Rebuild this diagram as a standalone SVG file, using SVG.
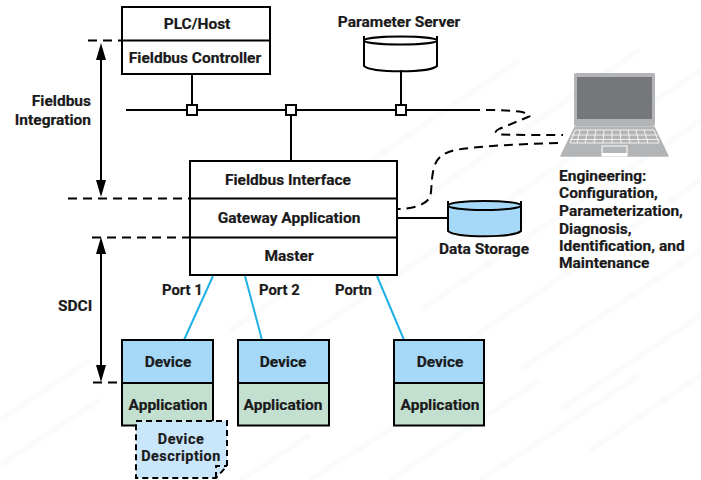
<svg xmlns="http://www.w3.org/2000/svg" width="701" height="480" viewBox="0 0 701 480">
<defs>
<style>
text{font-family:Roboto,"Liberation Sans",sans-serif;font-weight:700;font-size:15.500px;fill:#1a1a1a;stroke:#1a1a1a;stroke-width:.2px}
.m{text-anchor:middle}
.p{font-size:14.800px}
.q{font-size:14.400px;letter-spacing:.5px}
.b{fill:#fff;stroke:#000;stroke-width:2}
.l{fill:none;stroke:#000;stroke-width:2}
.d{fill:none;stroke:#000;stroke-width:2;stroke-dasharray:9 6}
.c{fill:none;stroke:#1fb0e6;stroke-width:2}
.s{fill:#fff;stroke:#000;stroke-width:2}
.blue{fill:#a5d9f7;stroke:#000;stroke-width:2}
.green{fill:#c3dfd0;stroke:#000;stroke-width:2}
.k{fill:none;stroke:#fff;stroke-width:.8}
</style>
</defs>
<rect width="701" height="480" fill="#fff"/>
<g stroke="#fafbfc" stroke-width="6" fill="none">
<path d="M180 290L520 60M230 330L640 50M300 340L701 70M420 310L701 120M470 340L701 180M520 370L701 250M560 410L701 315M590 450L701 375M0 420L90 360M0 465L100 400M240 480L310 435M310 480L420 410M390 480L540 380M480 480L640 375"/>
</g>
<g id="connectors">
<path class="l" d="M126 110H480"/>
<path class="l" d="M192 74V110M291 110V161M401 70V110"/>
<path class="d" stroke-dasharray="9 5" d="M486 110Q510 110 522 112Q534 115 528 117L499 129Q492 133 500 134.500Q510 135 563 135"/>
<path class="d" stroke-dasharray="9 5" d="M558 143C520 144 480 146 455 150C438 154 435 162 433 172C431 182 432 190 430 197C426 205 412 209 397 209"/>
<path class="l" d="M397 218H448"/>
<path class="c" d="M213 276L184 340M245 276L262 340M377 276L404 340"/>
<path class="d" d="M88 40.500H122M68 198.500H190M92 237.500H190"/>
<path class="d" d="M93 382.500H122"/>
<path class="l" d="M101 58V182" stroke-width="2.500"/>
<path d="M101 43L106 60H96ZM101 197L96 180H106Z" fill="#000"/>
<path class="l" d="M101 250V370" stroke-width="2.500"/>
<path d="M101 237L106 254H96ZM101 382L96 365H106Z" fill="#000"/>
<rect class="s" x="187" y="105" width="10" height="10"/>
<rect class="s" x="286" y="105" width="10" height="10"/>
<rect class="s" x="396" y="105" width="10" height="10"/>
</g>
<g id="plc">
<rect class="b" x="122" y="7" width="148" height="67"/>
<path class="l" d="M122 40.500H270"/>
<text class="m" x="197" y="29">PLC/Host</text>
<text class="m" x="195" y="63">Fieldbus Controller</text>
</g>
<g id="parameter-server">
<text class="m" x="399" y="27">Parameter Server</text>
<path fill="#fff" d="M364 38V65C372 72 430 72 437 65V38Z"/>
<path class="l" d="M364 36V66C372 73 430 73 437 66V36"/>
<ellipse class="b" cx="400.500" cy="40.500" rx="36.500" ry="4"/>
</g>
<g id="gateway">
<rect class="b" x="190" y="161" width="207" height="114"/>
<path class="l" d="M190 198.500H397M190 237.500H397"/>
<text class="m" x="288" y="185">Fieldbus Interface</text>
<text class="m" x="289" y="223">Gateway Application</text>
<text class="m" x="289" y="261">Master</text>
</g>
<g id="data-storage">
<path fill="#a5d9f7" d="M448 203V230C456 237 514 237 521 230V203Z"/>
<path class="l" d="M448 201V231C456 238 514 238 521 231V201"/>
<ellipse class="blue" cx="484.500" cy="205.500" rx="36.500" ry="4.500"/>
<text class="m" x="484" y="254">Data Storage</text>
</g>
<g id="laptop">
<rect x="574" y="73" width="81" height="53" rx="2" fill="#b3b4b6"/>
<rect x="577" y="77" width="75" height="42" fill="#76777a"/>
<path d="M575 127H654L668 156H561Z" fill="#b3b4b6" stroke="#b3b4b6" stroke-width="1.500" stroke-linejoin="round"/>
<path d="M575 130H654L659 143H570ZM571.500 135H657.500M570 139.500H659M580 130L577 143M588 130L585 143M596 130L594 143M604 130L603 143M612 130L612 143M620 130L621 143M628 130L630 143M636 130L639 143M644 130L648 143" class="k"/>
<rect x="602" y="146" width="25" height="10" fill="#b3b4b6" stroke="#fff" stroke-width="1"/>
<rect x="602" y="153" width="25" height="3" fill="#fff"/>
</g>
<g id="engineering">
<text x="559" y="181">Engineering:</text>
<text x="559" y="198">Configuration,</text>
<text x="559" y="216">Parameterization,</text>
<text x="559" y="234">Diagnosis,</text>
<text x="559" y="251">Identification, and</text>
<text x="559" y="268">Maintenance</text>
</g>
<g id="labels">
<text x="91" y="106" text-anchor="end">Fieldbus</text>
<text x="91" y="125" text-anchor="end">Integration</text>
<text x="58" y="311">SDCI</text>
<text class="p" x="162" y="295">Port 1</text>
<text class="p" x="259" y="295">Port 2</text>
<text class="p" x="335" y="295">Portn</text>
</g>
<g id="device-1">
<rect class="blue" x="122" y="340" width="91" height="43"/>
<rect class="green" x="122" y="383" width="91" height="42.500"/>
<text class="m" x="168" y="367">Device</text>
<text class="m" x="168" y="410">Application</text>
</g>
<g id="device-2">
<rect class="blue" x="238" y="340" width="91" height="43"/>
<rect class="green" x="238" y="383" width="91" height="42.500"/>
<text class="m" x="283" y="367">Device</text>
<text class="m" x="283" y="410">Application</text>
</g>
<g id="device-n">
<rect class="blue" x="394" y="340" width="90" height="43"/>
<rect class="green" x="394" y="383" width="90" height="42.500"/>
<text class="m" x="440" y="367">Device</text>
<text class="m" x="440" y="410">Application</text>
</g>
<g id="device-description">
<path d="M136 421H227V466L216 478H136Z" fill="#c9e6fb" stroke="#000" stroke-width="2" stroke-dasharray="6 4"/>
<path d="M216 478V466H227" class="l" stroke-dasharray="6 4"/>
<text class="m q" x="181" y="444">Device</text>
<text class="m q" x="181" y="461">Description</text>
</g>
</svg>
